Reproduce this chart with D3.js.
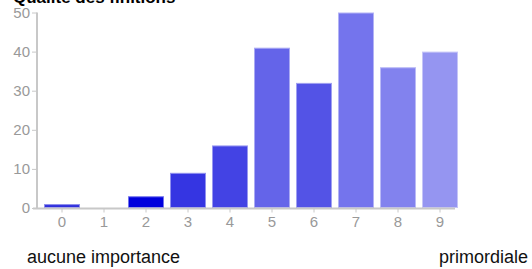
<!DOCTYPE html>
<html><head><meta charset="utf-8">
<script src="https://cdn.jsdelivr.net/npm/d3@7"></script>
<style>body{margin:0;background:#fff;}svg{display:block;font-family:"Liberation Sans",Arial,sans-serif;}</style>
</head><body>
<svg id="c" width="532" height="269"></svg>
<script>
const title = "Qualité des finitions";
const categories = ["0","1","2","3","4","5","6","7","8","9"];
const values = [1, 0, 3, 9, 16, 41, 32, 50, 36, 40];
const colors = ["#2f2fdc","#2f2fdc","#0000dd","#3535e2","#4343e4","#6464e9","#5353e6","#7474ed","#8282ee","#9595f1"];
const yTicks = [0,10,20,30,40,50];
const leftLabel = "aucune importance";
const rightLabel = "primordiale";

const svg = d3.select("#c");
const x = d3.scaleBand().domain(categories).range([41, 461]).paddingInner(0.143).paddingOuter(0.0715);
const y = d3.scaleLinear().domain([0,50]).range([208, 12.5]);

svg.append("text").attr("x",13).attr("y",3).attr("font-size",17).attr("font-weight","bold").attr("fill","#000").text(title);

// bars
svg.append("g").selectAll("rect").data(values).join("rect")
  .attr("x",(d,i)=>x(categories[i])+0.5)
  .attr("y",d=>y(d)+0.5)
  .attr("width",x.bandwidth()-1)
  .attr("height",d=>Math.max(0,y(0)-y(d)-1))
  .attr("fill",(d,i)=>colors[i])
  .attr("stroke",(d,i)=>d3.interpolateRgb(colors[i],"#fff")(0.45))
  .attr("stroke-width",1)
  .attr("display",d=>d>0?null:"none");

// y axis
const ya = svg.append("g").attr("transform","translate(37,0)")
  .call(d3.axisLeft(y).tickValues(yTicks).tickSize(5).tickPadding(2));
ya.select(".domain").attr("stroke","#c8c8c8").attr("stroke-width",2).attr("d","M0,"+y(50)+"V"+y(0));
ya.selectAll(".tick line").attr("stroke","#c8c8c8");
ya.selectAll(".tick text").attr("fill","#999").attr("font-size",15).attr("font-family","Liberation Sans, Arial, sans-serif");

// x axis
const xa = svg.append("g").attr("transform","translate(0,208.5)")
  .call(d3.axisBottom(x).tickSize(4).tickPadding(4));
xa.select(".domain").attr("stroke","#c8c8c8").attr("stroke-width",2).attr("d","M33,0H455");
xa.selectAll(".tick line").attr("stroke","#c8c8c8");
xa.selectAll(".tick text").attr("fill","#999").attr("font-size",15).attr("font-family","Liberation Sans, Arial, sans-serif");

svg.append("text").attr("x",27).attr("y",263).attr("font-size",18).attr("fill","#111").text(leftLabel);
svg.append("text").attr("x",528).attr("y",263).attr("text-anchor","end").attr("font-size",18).attr("fill","#111").text(rightLabel);
</script>
</body></html>
